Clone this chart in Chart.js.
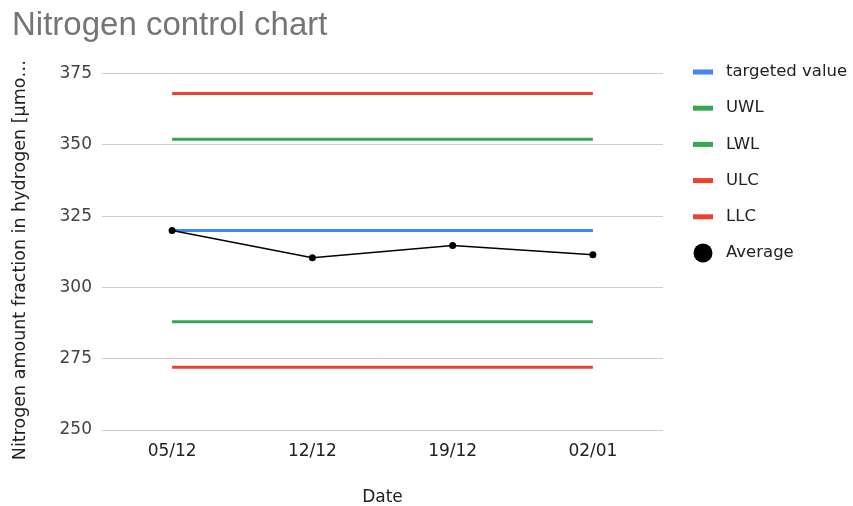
<!DOCTYPE html>
<html>
<head>
<meta charset="utf-8">
<script src="https://cdn.jsdelivr.net/npm/chart.js@4/dist/chart.umd.min.js"></script>
<style>
  html, body { margin: 0; padding: 0; background: #fff; }
  #wrap { width: 853px; height: 506px; position: relative; }
</style>
</head>
<body>
<div id="wrap"><canvas id="chart"></canvas></div>
<script>
// values
const dates = ['05/12', '12/12', '19/12', '02/01'];
const targetedValue = [320, 320, 320, 320];
const uwl = [352, 352, 352, 352];
const lwl = [288, 288, 288, 288];
const ulc = [368, 368, 368, 368];
const llc = [272, 272, 272, 272];
const average = [320, 310.4, 314.7, 311.5];
const yMin = 250, yMax = 375, yStep = 25;

const FONT = "'DejaVu Sans', sans-serif";

// google-ish legend on the right side, drawn from the datasets
const sideLegend = {
  id: 'sideLegend',
  afterDraw(chart) {
    const ctx = chart.ctx;
    ctx.save();
    ctx.font = '16.5px ' + FONT;
    ctx.textBaseline = 'middle';
    ctx.textAlign = 'left';
    chart.data.datasets.forEach((ds, i) => {
      const y = 72 + i * 36.2;
      if (ds.legendDot) {
        ctx.fillStyle = ds.borderColor;
        ctx.beginPath();
        ctx.arc(703, y, 9.5, 0, Math.PI * 2);
        ctx.fill();
      } else {
        ctx.fillStyle = ds.borderColor;
        ctx.fillRect(693, y - 2.5, 20, 5);
      }
      ctx.fillStyle = '#222';
      ctx.fillText(ds.label, 726, y);
    });
    ctx.restore();
  }
};

function flat(label, data, color) {
  return {
    label: label,
    data: data,
    borderColor: color,
    backgroundColor: color,
    borderWidth: 3,
    pointRadius: 0,
    pointHoverRadius: 0,
    tension: 0,
    order: 1
  };
}

new Chart(document.getElementById('chart'), {
  type: 'line',
  data: {
    labels: dates,
    datasets: [
      flat('targeted value', targetedValue, '#4285f4'),
      flat('UWL', uwl, '#34a853'),
      flat('LWL', lwl, '#34a853'),
      flat('ULC', ulc, '#ea4335'),
      flat('LLC', llc, '#ea4335'),
      {
        label: 'Average',
        data: average,
        borderColor: '#000',
        backgroundColor: '#000',
        borderWidth: 1.5,
        pointRadius: 3.5,
        pointBorderWidth: 0,
        tension: 0,
        order: 0,
        legendDot: true
      }
    ]
  },
  options: {
    responsive: true,
    maintainAspectRatio: false,
    animation: false,
    layout: { padding: { left: 12, right: 190, top: 0, bottom: 0 } },
    plugins: {
      legend: { display: false },
      tooltip: { enabled: false },
      title: {
        display: true,
        text: 'Nitrogen control chart',
        align: 'start',
        color: '#757575',
        font: { family: "'Liberation Sans', Arial, sans-serif", size: 33, weight: 'normal' },
        padding: { top: 6, bottom: 28 }
      }
    },
    scales: {
      x: {
        offset: true,
        grid: { display: false },
        border: { display: false },
        ticks: { color: '#222', font: { family: FONT, size: 17 }, padding: 3 },
        title: { display: true, text: 'Date', color: '#222', font: { family: FONT, size: 17, lineHeight: 1 }, padding: { top: 4, bottom: 0 } },
        afterFit(scale) { scale.height = 76; }
      },
      y: {
        min: yMin,
        max: yMax,
        grid: { color: '#cccccc', drawTicks: false, lineWidth: 1 },
        border: { display: false },
        ticks: { stepSize: yStep, color: '#444', font: { family: FONT, size: 17 }, padding: 10 },
        title: {
          display: true,
          // trailing spaces nudge the rotated label down a bit, like the reference
          text: 'Nitrogen amount fraction in hydrogen [µmo…   ',
          color: '#222',
          font: { family: FONT, size: 17.5, lineHeight: 1 },
          padding: { top: 0, bottom: 0 }
        },
        afterFit(scale) { scale.width = 90; }
      }
    }
  },
  plugins: [sideLegend]
});
</script>
</body>
</html>
